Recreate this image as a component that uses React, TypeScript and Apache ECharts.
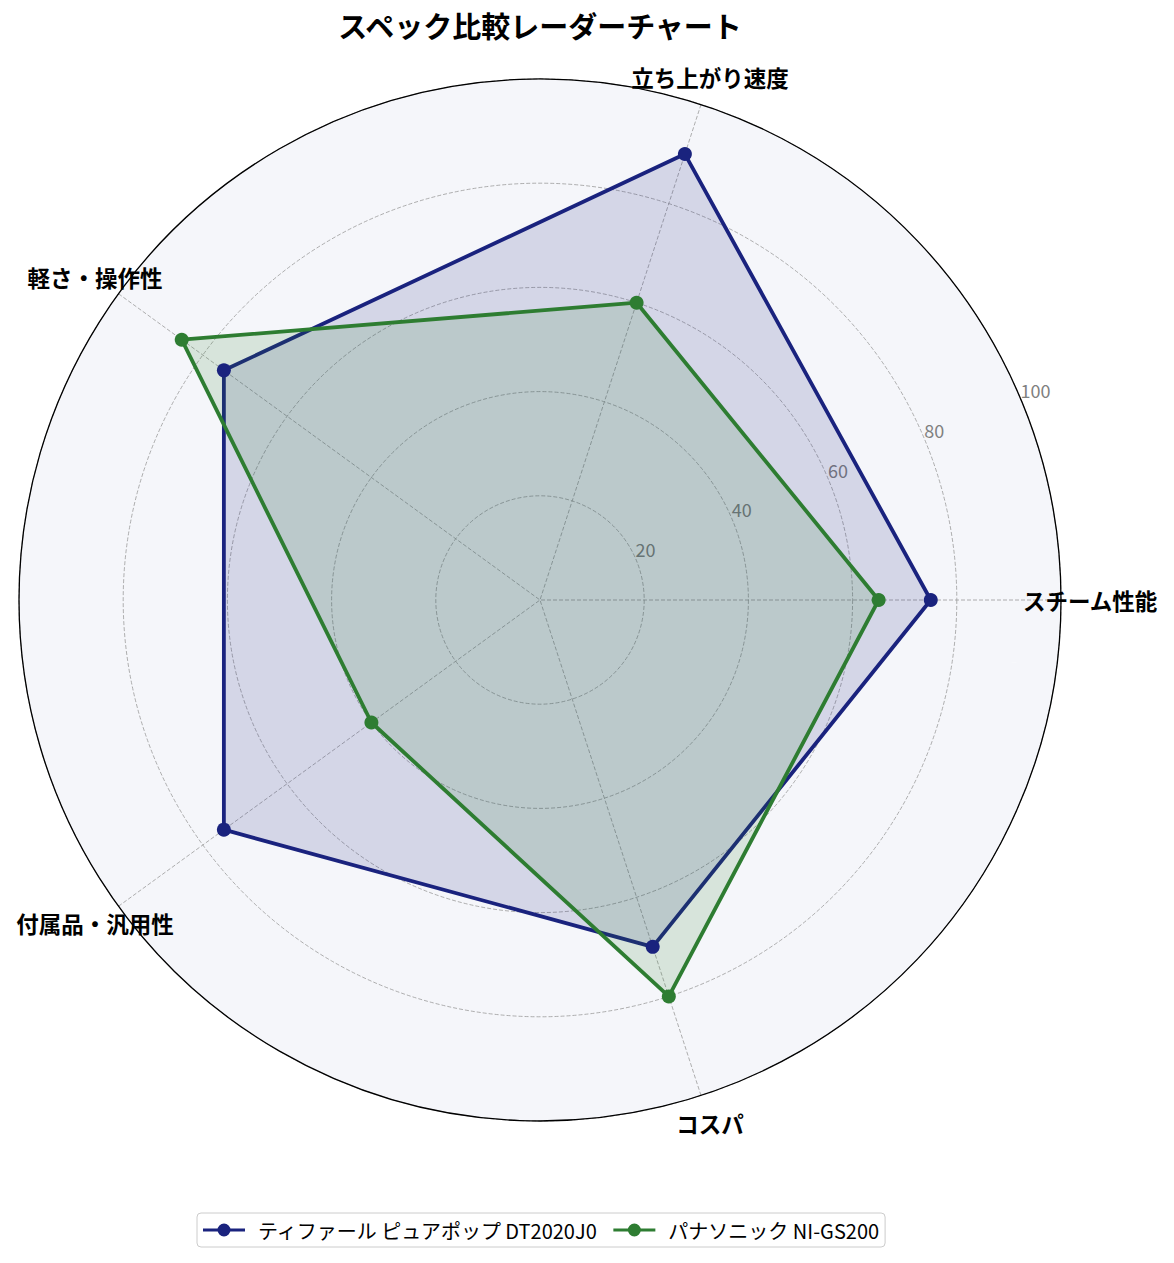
import React, { useEffect, useRef } from "react";
import * as echarts from "echarts";

const TITLE = "スペック比較レーダーチャート";
const categories = ["スチーム性能", "立ち上がり速度", "軽さ・操作性", "付属品・汎用性", "コスパ"];
const seriesNames = ["ティファール ピュアポップ DT2020J0", "パナソニック NI-GS200"];
const tefalValues = [75, 90, 75, 75, 70];
const panasonicValues = [65, 60, 85, 40, 80];
const seriesColors = ["#1a237e", "#2e7d32"];
const radialTicks = [20, 40, 60, 80, 100];

const FONT = "'Noto Sans CJK JP', 'Noto Sans', sans-serif";
const LEGEND_ICON =
  "path://M0,5L42,5L42,8L0,8Z M27.5,6.5A6.5,6.5,0,1,1,14.5,6.5A6.5,6.5,0,1,1,27.5,6.5Z";

export default function App() {
  const ref = useRef<HTMLDivElement>(null);
  useEffect(() => {
    if (!ref.current) return;
    const chart = echarts.init(ref.current, undefined, { renderer: "svg" });
    const center = [540, 600];
    const radius = 521;
    const n = categories.length;
    const labelData = categories.map((c, i) => ({ name: c, value: [105.6, (i * 360) / n] }));
    const gridLine = { show: true, lineStyle: { color: "#9a9a9a", type: [4, 2], width: 0.8 } };
    const option: any = {
      animation: false,
      backgroundColor: "#ffffff",
      color: seriesColors,
      textStyle: { fontFamily: FONT },
      title: {
        text: TITLE,
        left: 535,
        textAlign: "center",
        top: 5,
        textStyle: { fontSize: 29, fontWeight: "bold", color: "#000", fontFamily: FONT },
      },
      legend: {
        data: seriesNames.map((s, i) => ({ name: s, icon: LEGEND_ICON, itemStyle: { color: seriesColors[i], borderWidth: 0 } })),
        bottom: 16,
        left: 197,
        itemWidth: 42,
        itemHeight: 13,
        itemGap: 15,
        padding: [7, 6],
        borderColor: "#cccccc",
        borderWidth: 1,
        borderRadius: 4,
        backgroundColor: "#ffffff",
        textStyle: { fontSize: 20, color: "#000", fontFamily: FONT, padding: [0, 0, 0, 8] },
      },
      polar: [
        { center, radius },
        { center, radius },
      ],
      angleAxis: [
        {
          polarIndex: 0,
          z: 1,
          type: "value",
          min: 0,
          max: 360,
          interval: 72,
          startAngle: 0,
          clockwise: false,
          axisLine: { show: true, lineStyle: { color: "#000", width: 1.3 } },
          axisTick: { show: false },
          axisLabel: { show: false },
          splitLine: gridLine,
        },
        {
          polarIndex: 1,
          z: 0,
          type: "value",
          min: 0,
          max: 360,
          startAngle: 22.5,
          clockwise: false,
          axisLine: { show: false },
          axisTick: { show: false },
          axisLabel: { show: false },
          splitLine: { show: false },
          splitArea: { show: true, areaStyle: { color: ["#f5f6fa"] } },
        },
      ],
      radiusAxis: [
        {
          polarIndex: 0,
          z: 1,
          min: 0,
          max: 100,
          interval: 20,
          axisLine: { show: false },
          axisTick: { show: false },
          axisLabel: { show: false },
          splitLine: gridLine,
        },
        {
          polarIndex: 1,
          z: 1,
          min: 0,
          max: 100,
          interval: 20,
          axisLine: { show: false },
          axisTick: { show: false },
          splitLine: { show: false },
          axisLabel: {
            show: true,
            color: "#808080",
            fontSize: 18,
            fontFamily: FONT,
            margin: 2,
            align: "left",
            verticalAlign: "bottom",
            formatter: (v: number) => (radialTicks.includes(v) ? String(v) : ""),
          },
        },
      ],
      radar: {
        center,
        radius,
        startAngle: 0,
        shape: "circle",
        indicator: categories.map((c) => ({ name: c, min: 0, max: 100 })),
        axisName: { show: false },
        axisLine: { show: false },
        splitLine: { show: false },
        splitArea: { show: false },
        axisTick: { show: false },
        axisLabel: { show: false },
      },
      series: [
        {
          type: "radar",
          z: 2,
          symbol: "circle",
          symbolSize: 14,
          data: [
            {
              name: seriesNames[0],
              value: tefalValues,
              itemStyle: { color: seriesColors[0] },
              lineStyle: { color: seriesColors[0], width: 3.8 },
              areaStyle: { color: seriesColors[0], opacity: 0.15 },
            },
            {
              name: seriesNames[1],
              value: panasonicValues,
              itemStyle: { color: seriesColors[1] },
              lineStyle: { color: seriesColors[1], width: 3.8 },
              areaStyle: { color: seriesColors[1], opacity: 0.15 },
            },
          ],
        },
        {
          type: "scatter",
          name: "axis-labels",
          coordinateSystem: "polar",
          polarIndex: 0,
          z: 3,
          symbolSize: 0,
          clip: false,
          silent: true,
          itemStyle: { opacity: 1 },
          data: labelData,
          label: {
            show: true,
            position: "inside",
            formatter: (p: any) => p.name,
            fontSize: 22.5,
            fontWeight: "bold",
            color: "#000",
            opacity: 1,
            textBorderWidth: 0,
            fontFamily: FONT,
          },
        },
      ],
    };
    chart.setOption(option);
    return () => chart.dispose();
  }, []);
  return (
    <div
      ref={ref}
      style={{ position: "fixed", left: 0, top: 0, width: 1174, height: 1263, background: "#fff" }}
    />
  );
}
